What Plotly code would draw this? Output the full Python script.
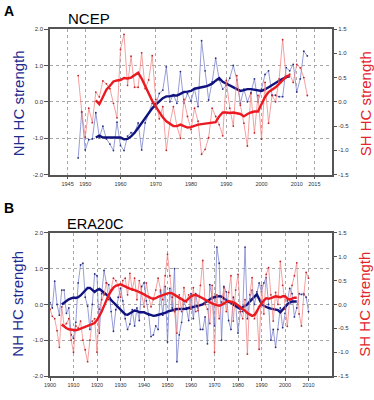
import plotly.graph_objects as go

# ---------------- Panel A: NCEP ----------------
ncep_years = list(range(1948, 2014))
ncep_nh = [-1.54, -0.29, -1.32, -1.04, -1.02, -0.30, -0.98, -0.67, -1.02, -1.16,
           -1.34, -0.56, -1.20, -1.34, -0.94, -0.85, -0.85, -0.58, -1.32, -0.58,
           -0.30, -0.04, -0.08, 0.23, 0.32, 0.96, 0.00, 0.20, -0.04, 0.83,
           -0.04, 0.23, 0.02, 0.36, -0.13, 1.68, 0.85, 0.05, 0.55, 1.20,
           0.60, 0.35, 0.45, 0.65, 1.00, 0.60, -0.04, 0.35, 0.00, 0.25,
           0.63, 0.00, 0.35, 0.75, 0.85, 0.18, 0.18, 0.14, 0.14, 0.94,
           0.85, 1.03, 0.27, 0.63, 1.39, 1.26]
ncep_sh = [0.54, -0.20, -0.73, -0.13, -0.43, 0.20, 0.10, 0.43, 0.37, 0.27,
           -0.03, -0.33, 1.08, 1.39, 0.34, 0.94, 0.30, 0.30, 1.01, 0.27,
           0.45, 0.95, 0.05, -0.35, -0.10, -1.00, -0.45, -0.10, -0.50, -0.75,
           0.05, -0.30, -0.57, -0.13, -0.40, -1.08, -0.98, -0.74, -0.13, -0.30,
           -0.47, -0.70, 0.44, -0.13, -0.50, 0.54, -0.07, -0.44, -0.91, 0.17,
           -0.64, 0.13, -0.77, 0.40, -0.44, 0.13, 0.00, 0.47, 1.28, 0.50,
           0.57, 0.40, 0.77, 0.70, 0.50, 0.13]
ncep_smooth_years = list(range(1953, 2009))
ncep_nh_smooth = [-0.98, -0.93, -0.98, -0.98, -0.97, -0.99, -0.97, -0.98, -1.03, -1.02,
                  -0.95, -0.85, -0.72, -0.58, -0.45, -0.32, -0.18, -0.08, 0.02, 0.10,
                  0.15, 0.15, 0.18, 0.17, 0.22, 0.27, 0.28, 0.30, 0.36, 0.38,
                  0.38, 0.42, 0.45, 0.50, 0.58, 0.65, 0.55, 0.50, 0.45, 0.42,
                  0.36, 0.30, 0.32, 0.35, 0.35, 0.33, 0.30, 0.30, 0.34, 0.40,
                  0.48, 0.52, 0.58, 0.63, 0.68, 0.70]
ncep_sh_smooth = [0.03, -0.05, 0.10, 0.25, 0.33, 0.42, 0.44, 0.45, 0.49, 0.48,
                  0.50, 0.55, 0.60, 0.48, 0.32, 0.15, 0.02, -0.10, -0.22, -0.32,
                  -0.40, -0.45, -0.50, -0.50, -0.47, -0.50, -0.53, -0.52, -0.49, -0.47,
                  -0.46, -0.45, -0.44, -0.43, -0.42, -0.30, -0.22, -0.22, -0.23, -0.22,
                  -0.24, -0.25, -0.30, -0.25, -0.22, -0.20, -0.20, -0.05, 0.10, 0.20,
                  0.25, 0.30, 0.37, 0.45, 0.52, 0.55]

# ---------------- Panel B: ERA20C ----------------
era_years = list(range(1900, 2011))
era_nh = [0.05, -0.10, 0.65, 0.00, -0.30, 0.40, 0.40, -0.25, -0.10, -0.85,
          -0.95, -0.50, 0.60, 1.10, 1.15, 0.20, -0.05, -0.70, 0.00, 0.85,
          0.80, -0.80, 0.30, 0.95, 0.60, 0.55, -0.20, -0.75, -0.15, 0.20,
          0.45, 0.10, -0.40, -0.70, -0.55, -0.15, -0.60, -0.10, -0.45, 0.50,
          0.60, 0.10, -0.30, -0.90, -0.85, -0.60, -0.70, 0.35, -0.30, 0.50,
          -1.05, 0.45, -0.10, 1.00, -1.60, -0.85, -0.50, 0.10, -0.10, -0.45,
          0.30, -0.40, 0.30, -0.10, -0.70, -0.70, -0.35, -1.10, 0.55, 0.20,
          -0.60, 1.60, 1.15, -1.00, 0.50, 0.35, -0.45, -0.70, 0.20, 0.00,
          -0.80, -0.20, -0.20, 1.60, -0.40, 0.15, 0.40, 0.00, 0.35, 0.60,
          0.35, 0.60, 0.75, 0.00, -1.00, -0.70, -1.20, -0.70, -0.10, -0.65,
          -0.25, 0.10, 0.45, 0.30, -0.35, -0.10, 0.30, 0.28, 0.30, 0.20,
          -0.20]
era_sh = [-0.10, -0.25, -0.30, -0.55, -0.90, -0.05, -0.45, -0.40, -0.30, -0.75,
          -1.00, -0.45, -0.50, -0.35, -0.75, -0.95, -1.20, -0.75, -0.35, -0.30,
          -1.00, -0.10, 0.10, 0.20, 0.45, 0.10, 0.30, 0.55, 0.50, 0.40,
          0.15, 0.50, 0.55, 0.20, 0.65, 0.30, 0.55, 0.10, 0.50, 0.25,
          -0.05, 0.45, 0.15, -0.05, 0.10, 0.30, 0.55, 0.30, 0.10, 0.60,
          1.05, 0.60, 0.15, -0.15, -0.60, 0.20, -0.15, 0.35, 0.05, 0.20,
          -0.10, 0.35, -0.15, -0.13, 0.40, 0.92, 0.00, -0.10, -0.40, 0.40,
          -1.00, 0.20, -0.30, 0.05, 0.35, -0.15, 0.25, 0.60, -0.35, 0.30,
          0.63, -0.15, -0.30, 0.10, -1.04, 0.20, 0.56, -0.30, -0.15, -0.94,
          0.40, -0.20, 0.63, 0.77, 0.20, -0.35, 0.25, 0.00, 0.90, 0.40,
          -0.10, -0.46, 0.10, 0.40, 0.60, 0.87, -0.20, -0.45, 0.20, 0.67,
          0.55]
era_smooth_years = list(range(1905, 2006))
era_nh_smooth = [0.00, 0.05, 0.10, 0.14, 0.17, 0.19, 0.18, 0.20, 0.25, 0.33,
                 0.40, 0.46, 0.46, 0.40, 0.35, 0.40, 0.43, 0.38, 0.33, 0.28,
                 0.22, 0.12, 0.05, -0.03, -0.10, -0.17, -0.22, -0.28, -0.29, -0.25,
                 -0.20, -0.17, -0.18, -0.22, -0.22, -0.22, -0.25, -0.27, -0.29, -0.32,
                 -0.31, -0.29, -0.28, -0.27, -0.24, -0.20, -0.18, -0.18, -0.15, -0.13,
                 -0.13, -0.13, -0.12, -0.12, -0.10, -0.09, -0.08, -0.06, -0.04, -0.02,
                 0.00, 0.05, 0.10, 0.14, 0.18, 0.20, 0.22, 0.23, 0.22, 0.18,
                 0.12, 0.07, 0.05, 0.00, -0.05, -0.10, -0.13, -0.08, -0.03, 0.00,
                 0.08, 0.15, 0.23, 0.28, 0.15, 0.02, -0.04, -0.08, -0.10, -0.12,
                 -0.13, -0.15, -0.16, -0.22, -0.15, -0.05, 0.00, 0.05, 0.08, 0.08,
                 0.08]
era_sh_smooth = [-0.42, -0.47, -0.50, -0.52, -0.53, -0.54, -0.54, -0.53, -0.51, -0.49,
                 -0.48, -0.46, -0.44, -0.42, -0.39, -0.33, -0.25, -0.15, -0.03, 0.10,
                 0.20, 0.28, 0.35, 0.39, 0.41, 0.42, 0.40, 0.37, 0.35, 0.33,
                 0.32, 0.30, 0.28, 0.26, 0.24, 0.21, 0.18, 0.15, 0.13, 0.12,
                 0.13, 0.16, 0.18, 0.20, 0.21, 0.23, 0.24, 0.23, 0.20, 0.17,
                 0.14, 0.12, 0.08, 0.07, 0.12, 0.17, 0.19, 0.20, 0.18, 0.16,
                 0.13, 0.10, 0.07, 0.04, 0.02, 0.00, -0.02, -0.03, -0.01, 0.03,
                 0.05, 0.07, 0.06, 0.04, 0.02, -0.03, -0.06, -0.10, -0.13, -0.18,
                 -0.22, -0.24, -0.22, -0.15, -0.05, 0.03, 0.08, 0.13, 0.12, 0.13,
                 0.15, 0.17, 0.16, 0.15, 0.17, 0.17, 0.12, 0.10, 0.12, 0.14,
                 0.14]

ncep_xticks = [1945, 1950, 1960, 1970, 1980, 1990, 2000, 2010, 2015]
era_xticks = list(range(1900, 2011, 10))
left_ticks = [-2.0, -1.0, 0.0, 1.0, 2.0]
right_ticks = [-1.5, -1.0, -0.5, 0.0, 0.5, 1.0, 1.5]

# styles
FONT = "Liberation Sans, Arial, sans-serif"
BLUE_RAW = "#747cca"
BLUE_MK = "#2a3080"
RED_RAW = "#f28080"
RED_MK = "#c0262b"
NAVY = "#10137e"
RED = "#ea1a20"
NAVY_TXT = "#1d2a8e"
RED_TXT = "#e3242a"
FRAME = "#555555"
GRID = "#a8a8a8"

fig = go.Figure()

def add_panel(years, nh, sh, syears, nh_s, sh_s, xa, ya_l, ya_r):
    fig.add_trace(go.Scatter(x=years, y=nh, mode="lines+markers", xaxis=xa, yaxis=ya_l,
                             line=dict(color=BLUE_RAW, width=0.75),
                             marker=dict(color=BLUE_MK, size=1.8),
                             showlegend=False, hoverinfo="skip"))
    fig.add_trace(go.Scatter(x=syears, y=nh_s, mode="lines", xaxis=xa, yaxis=ya_l,
                             line=dict(color=NAVY, width=2.4),
                             showlegend=False, hoverinfo="skip"))
    fig.add_trace(go.Scatter(x=years, y=sh, mode="lines+markers", xaxis=xa, yaxis=ya_r,
                             line=dict(color=RED_RAW, width=0.75),
                             marker=dict(color=RED_MK, size=1.8),
                             showlegend=False, hoverinfo="skip"))
    fig.add_trace(go.Scatter(x=syears, y=sh_s, mode="lines", xaxis=xa, yaxis=ya_r,
                             line=dict(color=RED, width=2.4),
                             showlegend=False, hoverinfo="skip"))

add_panel(ncep_years, ncep_nh, ncep_sh, ncep_smooth_years, ncep_nh_smooth, ncep_sh_smooth,
          "x", "y", "y2")
add_panel(era_years, era_nh, era_sh, era_smooth_years, era_nh_smooth, era_sh_smooth,
          "x2", "y3", "y4")

# Geometry (pixels): panel A plot y 29..178, panel B 237.5..384 ; x 50..332
H_PLOT = 355.0
domA = [(384 - 178) / H_PLOT, 1.0]
domB = [0.0, (384 - 237.5) / H_PLOT]

def xaxis_cfg(rng, ticks, anchor):
    return dict(range=rng, tickvals=ticks, ticktext=[str(t) for t in ticks],
                showgrid=True, gridcolor=GRID, griddash="dot", gridwidth=0.8,
                showline=True, linecolor=FRAME, linewidth=1.6, mirror=True,
                ticks="outside", ticklen=3, tickcolor=FRAME, tickwidth=0.8,
                tickfont=dict(size=5.5, color="#333333", family=FONT),
                zeroline=False, anchor=anchor, domain=[0, 1], fixedrange=True)

def yleft_cfg(dom, anchor):
    return dict(range=[-2.0, 2.0], tickvals=left_ticks,
                ticktext=["%.1f" % t for t in left_ticks],
                showgrid=True, gridcolor=GRID, griddash="dot", gridwidth=0.8,
                showline=True, linecolor=FRAME, linewidth=1.6, mirror=True,
                ticks="outside", ticklen=4, tickcolor=FRAME, tickwidth=0.8,
                tickfont=dict(size=6, color="#333333", family=FONT),
                zeroline=False, domain=dom, anchor=anchor, fixedrange=True)

def yright_cfg(overlay, anchor):
    return dict(range=[-1.5, 1.5], tickvals=right_ticks,
                ticktext=["%.1f" % t for t in right_ticks],
                overlaying=overlay, side="right", anchor=anchor,
                showgrid=False, showline=False, zeroline=False,
                ticks="outside", ticklen=4, tickcolor=FRAME, tickwidth=0.8,
                tickfont=dict(size=6, color="#333333", family=FONT), fixedrange=True)

fig.update_layout(
    width=374, height=400,
    margin=dict(l=50, r=42, t=29, b=16),
    paper_bgcolor="white", plot_bgcolor="white",
    font=dict(family=FONT),
    xaxis=xaxis_cfg([1940, 2020], ncep_xticks, "y"),
    yaxis=yleft_cfg(domA, "x"),
    yaxis2=yright_cfg("y", "x"),
    xaxis2=xaxis_cfg([1900, 2020], era_xticks, "y3"),
    yaxis3=yleft_cfg(domB, "x2"),
    yaxis4=yright_cfg("y3", "x2"),
)

def px_x(px):
    return (px - 50) / 282.0

def px_y(py):
    return (384 - py) / H_PLOT

ann = [
    dict(text="<b>A</b>", x=px_x(9), y=px_y(11), size=14, color="black", angle=0),
    dict(text="NCEP", x=px_x(89), y=px_y(18), size=15, color="black", angle=0),
    dict(text="<b>B</b>", x=px_x(9), y=px_y(212), size=14, color="black", angle=0),
    dict(text="ERA20C", x=px_x(95), y=px_y(228), size=14.5, color="black", angle=0),
    dict(text="NH HC strength", x=px_x(18), y=px_y(105), size=15, color=NAVY_TXT, angle=-90),
    dict(text="SH HC strength", x=px_x(365), y=px_y(105), size=15, color=RED_TXT, angle=-90),
    dict(text="NH HC strength", x=px_x(18), y=px_y(310), size=15, color=NAVY_TXT, angle=-90),
    dict(text="SH HC strength", x=px_x(365), y=px_y(310), size=15, color=RED_TXT, angle=-90),
]
for a in ann:
    fig.add_annotation(text=a["text"], x=a["x"], y=a["y"], xref="paper", yref="paper",
                       xanchor="center", yanchor="middle", showarrow=False,
                       textangle=a["angle"],
                       font=dict(size=a["size"], color=a["color"], family=FONT))

# remove the default page margin so the 374x400 figure fits the window exactly
fig.write_html("out.html", config={"displayModeBar": False},
               post_script="document.body.style.margin='0';document.body.style.overflow='hidden';")
